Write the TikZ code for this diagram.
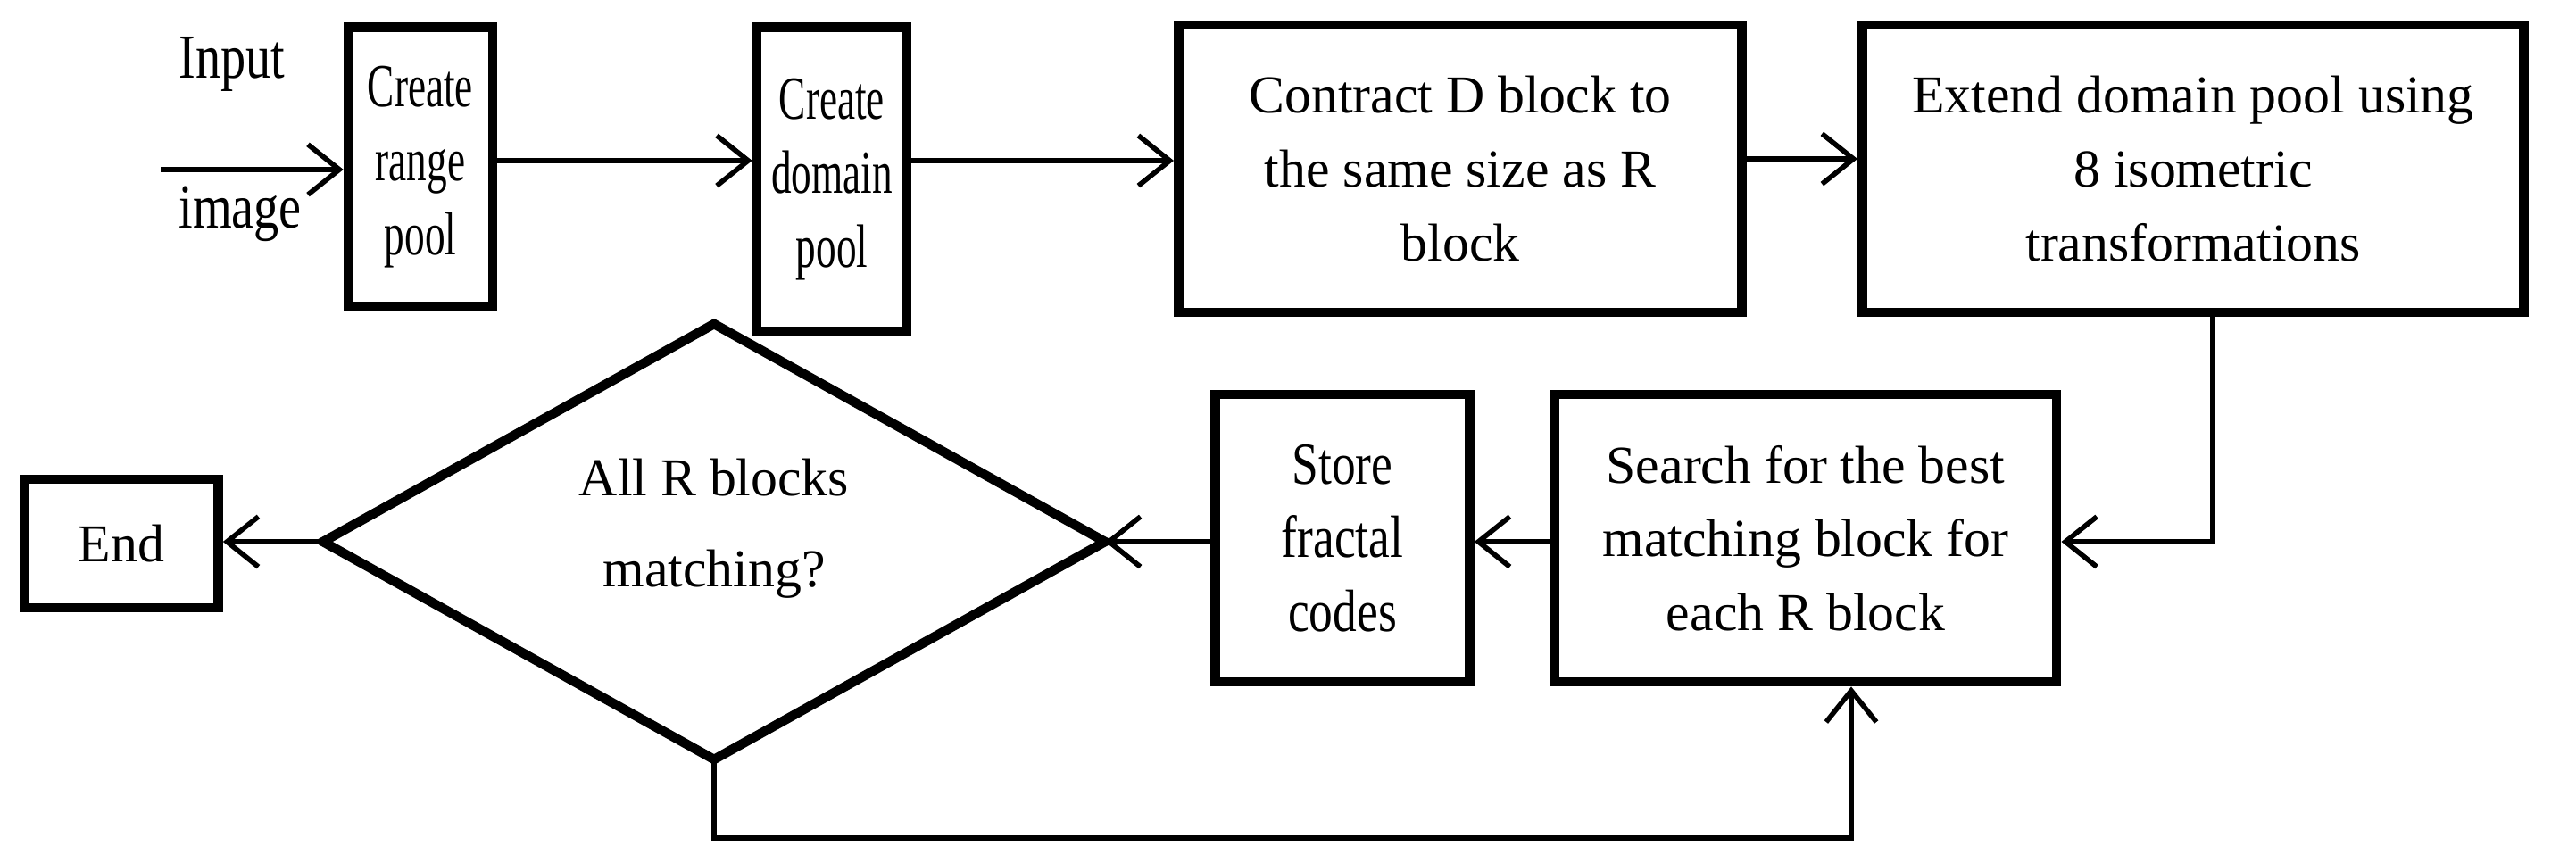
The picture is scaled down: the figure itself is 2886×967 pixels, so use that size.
\documentclass[tikz,border=0pt]{standalone}
\usepackage{fontspec}
\setmainfont{Liberation Serif}
\newfontfamily\narrowA{Liberation Serif}[FakeStretch=0.66]
\newfontfamily\narrowB{Liberation Serif}[FakeStretch=0.8]
\usetikzlibrary{shapes.geometric,arrows.meta}
\begin{document}
\begin{tikzpicture}[x=0.01cm,y=-0.01cm,
 box/.style={draw,line width=3pt,align=center,font=\fontsize{17}{23.5}\selectfont,inner sep=0pt},
 con/.style={line width=1.6pt,-{Straight Barb[length=10pt,width=16pt,line width=1.6pt]}},
 lbl/.style={font=\narrowB\fontsize{20}{22}\selectfont}]
\useasboundingbox (0,0) rectangle (2886,967);
\node[box,font=\narrowA\fontsize{19.5}{23.5}\selectfont,minimum width=1.62cm,minimum height=3.13cm] (b1) at (471,187) {Create\\range\\pool};
\node[box,font=\narrowA\fontsize{19.5}{23.5}\selectfont,minimum width=1.68cm,minimum height=3.41cm] (b2) at (932,201) {Create\\domain\\pool};
\node[box,minimum width=6.31cm,minimum height=3.22cm] (b3) at (1636,189) {Contract D block to\\the same size as R\\block};
\node[box,minimum width=7.41cm,minimum height=3.22cm] (b4) at (2457,189) {Extend domain pool using\\8 isometric\\transformations};
\node[box,minimum width=5.62cm,minimum height=3.22cm] (b5) at (2023,603) {Search for the best\\matching block for\\each R block};
\node[box,font=\narrowB\fontsize{19}{23.5}\selectfont,minimum width=2.85cm,minimum height=3.22cm] (b6) at (1504,603) {Store\\fractal\\codes};
\draw[line width=3pt] (362,607) coordinate (dl) -- (800,363) coordinate (dt) -- (1238,607) coordinate (dr) -- (800,851) coordinate (db) -- cycle;
\node[align=center,font=\fontsize{17}{29}\selectfont] (dtext) at (800,592) {All R blocks\\matching?};
\node[box,minimum width=2.17cm,minimum height=1.44cm] (end) at (136,609) {End};
\coordinate (in) at (180,190);
\node[lbl,anchor=west] (t1) at (188,72) {Input};
\node[lbl,anchor=west] (t2) at (188,240) {image};
\draw[con] (in) -- (b1.west |- in);
\draw[con] (b1.east |- 0,180) -- (b2.west |- 0,180);
\draw[con] (b2.east |- 0,180) -- (b3.west |- 0,180);
\draw[con] (b3.east |- 0,178) -- (b4.west |- 0,178);
\coordinate (c1) at (2479,350);
\coordinate (c2) at (2479,607);
\draw[con] (c1) -- (c2) -- (b5.east |- c2);
\draw[con] (b5.west |- 0,607) -- (b6.east |- 0,607);
\draw[con] (b6.west |- 0,607) -- (dr);
\draw[con] (dl) -- (end.east |- dl);
\coordinate (c3) at (800,939);
\coordinate (c4) at (2074,939);
\draw[con] (db) -- (c3) -- (c4) -- (b5.south -| c4);
\end{tikzpicture}
\end{document}
